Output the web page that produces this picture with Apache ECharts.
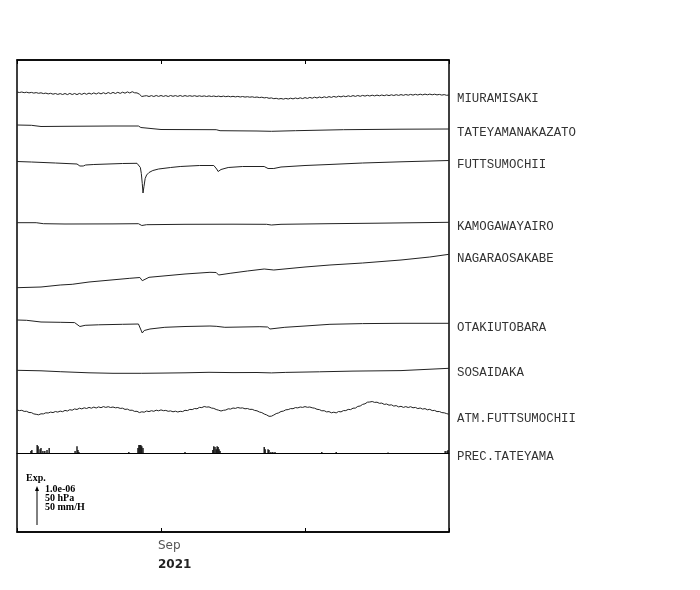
<!DOCTYPE html>
<html><head><meta charset="utf-8">
<script src="https://cdn.jsdelivr.net/npm/echarts@6/dist/echarts.min.js"></script>
<style>html,body{margin:0;padding:0;background:#fff}#c{width:700px;height:590px}</style>
</head><body><div id="c"></div>
<script>
// ---- DATA (x = days since 1 Aug 2021, values = trace deviation in display units, up positive) ----
const stationNames = ['MIURAMISAKI','TATEYAMANAKAZATO','FUTTSUMOCHII','KAMOGAWAYAIRO','NAGARAOSAKABE','OTAKIUTOBARA','SOSAIDAKA','ATM.FUTTSUMOCHII'];

// half-day samples (0, 0.5, 1, ... 90)
const miuramisaki = [
 0,-0.5,0.0,-0.7,-0.2,-0.9,-0.4,-1.1,-0.6,-1.3,
 -0.8,-1.6,-1.1,-1.9,-1.3,-2.2,-1.5,-2.4,-1.6,-2.5,
 -1.5,-2.6,-1.4,-2.5,-1.5,-2.6,-1.4,-2.4,-1.2,-2.3,
 -1.1,-2.1,-0.9,-2.0,-0.8,-1.9,-0.7,-1.8,-0.5,-1.6,
 -0.4,-1.5,-0.3,-1.4,-0.2,-1.2,0.1,-1.0,0.3,-0.8,
 -0.9,-2.2,-4.5,-4.0,-3.7,-4.5,-3.6,-4.5,-3.5,-4.4,
 -3.5,-4.4,-3.6,-4.5,-3.5,-4.3,-3.6,-4.4,-3.5,-4.4,
 -3.6,-4.3,-3.7,-4.3,-3.7,-4.4,-3.8,-4.4,-3.9,-4.5,
 -3.9,-4.5,-4.0,-4.6,-4.1,-4.7,-4.1,-4.7,-4.2,-4.8,
 -4.3,-4.9,-4.4,-5.0,-4.5,-5.1,-4.7,-5.2,-4.8,-5.4,
 -5.0,-5.6,-5.2,-5.9,-5.5,-6.3,-5.9,-6.7,-6.3,-7.0,
 -6.5,-7.1,-6.4,-7.0,-6.2,-6.9,-6.0,-6.7,-5.8,-6.6,
 -5.6,-6.4,-5.4,-6.2,-5.2,-6.0,-5.0,-5.8,-4.8,-5.6,
 -4.6,-5.4,-4.4,-5.2,-4.2,-4.9,-4.0,-4.7,-3.8,-4.5,
 -3.6,-4.4,-3.5,-4.3,-3.4,-4.1,-3.3,-4.0,-3.2,-3.9,
 -3.1,-3.8,-3.0,-3.7,-2.9,-3.6,-2.8,-3.5,-2.7,-3.4,
 -2.6,-3.3,-2.5,-3.2,-2.4,-3.1,-2.3,-3.0,-2.2,-2.9,
 -2.1,-2.8,-2.1,-2.8,-2.2,-2.9,-2.4,-3.1,-2.6,-3.3,
 -3.0
];
const tateyamanakazato = [[0,0],[3,-0.3],[5,-1.5],[10,-1.3],[20,-1.0],[25.3,-1.0],[25.8,-2.5],[26.2,-4.5],[30,-4.5],[41.5,-4.7],[42.3,-5.7],[50,-6.0],[53,-6.3],[58,-5.7],[68,-4.7],[80,-4.2],[90,-4.0]];
const futtsumochii = [[0,0],[3,-0.5],[8,-1.5],[12.5,-2.5],[13.1,-4.5],[13.4,-6],[13.8,-4.5],[14.3,-3.5],[16,-3],[22,-2],[25,-1.8],[25.4,-3],[25.7,-6],[25.9,-12],[26.1,-22],[26.25,-31.5],[26.45,-25],[26.7,-17],[27,-13.5],[27.5,-11],[28.3,-9],[29.5,-7.5],[32,-6],[34,-5],[38,-4],[41,-4],[41.6,-7.5],[41.9,-10],[42.5,-8],[44,-6],[47,-5],[51.5,-5],[52.3,-7],[52.7,-8.5],[53.5,-7],[55,-5.5],[60,-4],[65,-3],[72,-1.5],[80,-0.3],[90,1]];
const kamogawayairo = [[0,0],[4,0],[5.5,-1],[10,-1.3],[20,-1.2],[25.3,-1],[26,-2.8],[27,-2],[35,-1.6],[45,-1.5],[52,-1.6],[53,-2.3],[55,-1.6],[65,-1],[75,-0.5],[90,0.4]];
const nagaraosakabe = [[0,0],[5,0.7],[9,2.7],[11.5,3.4],[15,5.7],[23.5,9.4],[25.6,10.2],[26.1,7],[27.5,10.4],[35,13.7],[40.2,15.4],[41.5,15.2],[42,12.7],[44.4,14.4],[48,16.7],[51.5,18.7],[53.5,17.7],[60,20.7],[65.2,22.7],[72,24.7],[80,27.7],[86,30.7],[90,33.4]];
const otakiutobara = [[0,0],[2,-0.3],[5,-2],[9,-2.3],[12,-2.6],[13.1,-6.5],[13.5,-5.8],[14.2,-5.3],[17,-4.8],[22,-4.3],[25.3,-4],[25.7,-5.5],[26.1,-13],[26.5,-10.5],[27.7,-9],[30.8,-7.3],[35,-6.5],[40.2,-6],[41.5,-6.3],[41.9,-8.3],[43.3,-7.3],[50.6,-6.7],[52.2,-7],[52.7,-9],[55.8,-7.3],[60,-6],[65.2,-4.3],[72,-3.6],[80,-3.3],[90,-3.3]];
const sosaidaka = [[0,0],[5,-0.5],[9,-1.4],[15,-2.5],[20,-3],[26,-3],[30,-2.8],[35,-2.5],[40,-2],[45,-2.3],[50,-2.2],[53,-2.6],[56,-2.1],[63,-1.5],[70,-0.8],[80,-0.3],[90,2]];
// half-day samples
const atmFuttsumochii = [
 0,-0.6,-0.3,-1.4,-1.3,-2.5,-2.6,-3.9,-4.3,-4.8,
 -3.8,-3.9,-2.8,-3.0,-2.1,-2.6,-1.5,-2.1,-1.1,-1.7,
 -0.4,-1.0,0.3,-0.2,1.1,0.5,1.8,1.1,2.2,1.5,
 2.6,1.8,2.9,2.0,3.1,2.3,3.4,2.6,3.3,2.5,
 3.0,2.2,2.5,1.6,1.8,0.6,0.9,-0.3,-0.2,-1.4,
 -1.3,-2.6,-1.8,-2.2,-1.0,-1.6,-0.7,-1.3,-0.2,-0.8,
 0.1,-0.7,-0.4,-1.3,-0.9,-1.8,-1.2,-2.0,-1.3,-1.6,
 -0.3,-0.6,0.6,0.4,1.5,1.2,2.6,2.4,3.5,2.9,
 3.1,2.0,1.6,0.5,-0.2,-1.0,-0.3,0.0,1.2,0.9,
 2.0,1.6,2.5,1.9,2.1,1.2,1.5,0.6,0.7,-0.4,
 -0.8,-2.0,-2.6,-4.0,-4.9,-6.3,-6.2,-5.0,-3.6,-2.9,
 -1.5,-1.1,0.2,0.4,1.4,1.3,2.4,2.1,3.0,2.6,
 3.4,2.7,3.0,2.2,1.8,0.7,0.4,-0.8,-0.7,-1.9,
 -1.6,-2.8,-2.2,-2.9,-1.5,-1.9,-0.6,-0.6,0.6,0.4,
 1.8,1.9,3.6,4.0,5.6,6.2,7.8,8.0,8.5,7.6,
 7.8,6.7,6.9,5.6,6.0,4.8,5.2,3.9,4.4,3.1,
 3.7,2.6,3.4,2.5,3.3,2.2,2.6,1.4,2.0,0.9,
 1.4,0.2,0.7,-0.6,-0.4,-1.6,-1.5,-2.6,-2.8,-3.6,
 -4.3
];
// precipitation, Tateyama (mm/H)
const precDays = [2.9,3.1,4.2,4.4,4.8,5.0,5.4,5.8,6.25,6.7,12.1,12.5,12.7,12.9,23.3,25.2,25.4,25.6,25.8,26.0,26.25,35.0,40.8,41.0,41.25,41.5,41.7,41.9,42.1,42.3,51.5,51.7,52.3,52.5,52.9,53.3,53.75,63.5,66.5,77.3,89.2,89.6,89.8];
const precMm   = [2.6,4,10.5,9,5,6.5,2.6,2.6,4,6.5,2.6,9,4,1.3,1.3,6.5,10.5,10.5,10.5,9,6.5,1.3,4,9,8,5,9,8,5,2.6,8,5,5,4,1.3,1.3,1.3,1.3,1.3,0.7,2.6,2.6,4];
const tickLabels = {30: ['Sep', '2021']};
const scaleTexts = ['Exp.', '1.0e-06', '50 hPa', '50 mm/H'];

// ---- LAYOUT (trace base levels in axis units, 1 unit = 1 px) ----
const traceBase = [440, 407, 370.5, 309.3, 244.3, 212, 161.7, 122];

const halfDaySeries = arr => arr.map((v, i) => [i * 0.5, v]);
const traces = [
  halfDaySeries(miuramisaki), tateyamanakazato, futtsumochii, kamogawayairo,
  nagaraosakabe, otakiutobara, sosaidaka, halfDaySeries(atmFuttsumochii)
];

const monoFont = 'Liberation Mono';
const labelStyle = {fontFamily: monoFont, fontSize: 12.4, color: '#333'};

const series = traces.map((t, k) => ({
  type: 'line', name: stationNames[k], xAxisIndex: 0, yAxisIndex: 0,
  data: t.map(p => [p[0], traceBase[k] + p[1]]),
  showSymbol: false, symbol: 'none', smooth: false,
  lineStyle: {color: '#222', width: 1},
  endLabel: Object.assign({show: true, formatter: stationNames[k], distance: 8, offset: [0, 4], align: 'left', verticalAlign: 'middle'}, labelStyle),
  silent: true, animation: false
}));
series.push({
  type: 'bar', name: 'PREC.TATEYAMA', xAxisIndex: 2, yAxisIndex: 1,
  data: precDays.map((d, i) => [d, precMm[i]]),
  barWidth: 1.4, itemStyle: {color: '#111'}, silent: true, animation: false
});

const chart = echarts.init(document.getElementById('c'), null, {renderer: 'canvas'});
chart.setOption({
  animation: false,
  backgroundColor: '#fff',
  grid: [
    {left: 17, right: 251, top: 60, bottom: 58, show: true, borderColor: '#000', borderWidth: 1.5, containLabel: false},
    {left: 17, right: 251, top: 415, height: 38, show: false}
  ],
  xAxis: [
    {type: 'value', gridIndex: 0, position: 'bottom', min: 0, max: 90, interval: 30,
     axisLine: {show: true, lineStyle: {color: '#000', width: 1.5}},
     axisTick: {show: true, inside: true, length: 4, lineStyle: {color: '#000', width: 1}},
     splitLine: {show: false},
     axisLabel: {show: true, margin: 5, align: 'left',
       formatter: v => tickLabels[v] ? '{a|' + tickLabels[v][0] + '}\n{b|' + tickLabels[v][1] + '}' : '',
       rich: {a: {fontFamily: 'DejaVu Sans', fontSize: 12, color: '#555', lineHeight: 18, padding: [0,0,0,-3]},
              b: {fontFamily: 'DejaVu Sans', fontSize: 12, fontWeight: 'bold', color: '#222', lineHeight: 19, padding: [0,0,0,-3]}}}},
    {type: 'value', gridIndex: 0, position: 'top', min: 0, max: 90, interval: 30,
     axisLine: {show: true, lineStyle: {color: '#000', width: 1.5}},
     axisTick: {show: true, inside: true, length: 4, lineStyle: {color: '#000', width: 1}},
     splitLine: {show: false}, axisLabel: {show: false}},
    {type: 'value', gridIndex: 1, position: 'bottom', min: 0, max: 90,
     axisLine: {show: true, onZero: false, lineStyle: {color: '#000', width: 1}},
     axisTick: {show: false}, axisLabel: {show: false}, splitLine: {show: false},
     name: 'PREC.TATEYAMA', nameLocation: 'end', nameGap: 8,
     nameTextStyle: Object.assign({align: 'left', verticalAlign: 'top', lineHeight: 8}, labelStyle)}
  ],
  yAxis: [
    {type: 'value', gridIndex: 0, min: 0, max: 472, show: false},
    {type: 'value', gridIndex: 1, min: 0, max: 50, show: false}
  ],
  series: series,
  graphic: [
    {type: 'text', left: 26, top: 473, style: {text: scaleTexts[0], font: 'bold 10px "Liberation Serif"', fill: '#000'}},
    {type: 'line', shape: {x1: 37, y1: 525, x2: 37, y2: 489}, style: {stroke: '#000', lineWidth: 1}},
    {type: 'polygon', shape: {points: [[37, 486], [35, 491], [39, 491]]}, style: {fill: '#000'}},
    {type: 'text', left: 45, top: 484.5, style: {text: scaleTexts[1], font: 'bold 10px "Liberation Serif"', fill: '#000'}},
    {type: 'text', left: 45, top: 493.5, style: {text: scaleTexts[2], font: 'bold 10px "Liberation Serif"', fill: '#000'}},
    {type: 'text', left: 45, top: 502.5, style: {text: scaleTexts[3], font: 'bold 10px "Liberation Serif"', fill: '#000'}}
  ]
});
</script></body></html>
